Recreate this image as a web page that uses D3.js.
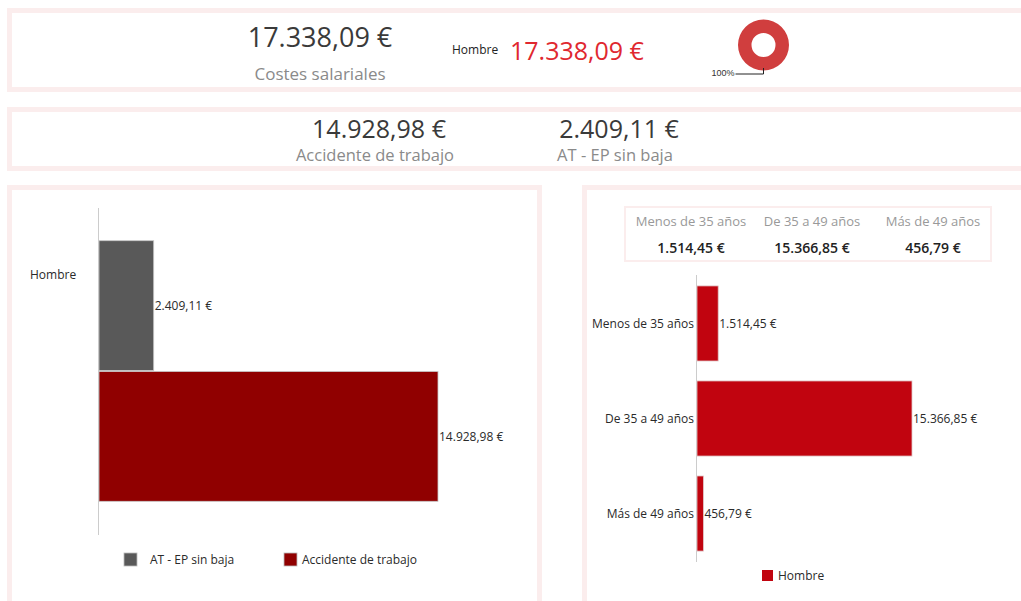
<!DOCTYPE html>
<html lang="es">
<head>
<meta charset="UTF-8">
<title>Costes salariales</title>
<script src="https://d3js.org/d3.v7.min.js"></script>
<style>
    body { margin: 0; background: #fff; }
    svg { display: block; font-family: "Open Sans", sans-serif; }
    .lbl { font-size: 12px; fill: #2a2a2a; }
</style>
</head>
<body>
<script>
// data
const totalCost = 17338.09;
const totalLabel = "Costes salariales";

const genders = ["Hombre"];
const genderCosts = [17338.09];
const genderShare = [1];

const kpiLabels = ["Accidente de trabajo", "AT - EP sin baja"];
const kpiValues = [14928.98, 2409.11];

const seriesNames = ["AT - EP sin baja", "Accidente de trabajo"];
const seriesValues = [2409.11, 14928.98];
const seriesColors = ["#595959", "#900000"];

const ageGroups = ["Menos de 35 años", "De 35 a 49 años", "Más de 49 años"];
const ageValues = [1514.45, 15366.85, 456.79];

const width = 1021, height = 601;
const border = "#fbeded";

const es = d3.formatLocale({decimal: ",", thousands: ".", grouping: [3], currency: ["", " €"]});
const eur = v => es.format(",.2f")(v) + " €";

const svg = d3.select("body").append("svg")
    .attr("width", width).attr("height", height);

// panels
const panels = [
    [9.5, 10.5, 1030, 79],
    [9.5, 109.5, 1030, 59],
    [9.5, 187.5, 530, 430],
    [584.5, 187.5, 460, 430]
];
svg.selectAll(".panel").data(panels).enter().append("rect")
    .attr("x", d => d[0]).attr("y", d => d[1])
    .attr("width", d => d[2]).attr("height", d => d[3])
    .attr("fill", "none").attr("stroke", border).attr("stroke-width", 5);

// top KPI
svg.append("text").attr("x", 320).attr("y", 47).attr("text-anchor", "middle")
    .attr("font-size", 27).attr("fill", "#3a3a3a").text(eur(totalCost));
svg.append("text").attr("x", 320).attr("y", 80).attr("text-anchor", "middle")
    .attr("font-size", 17).attr("fill", "#8a8a8a").text(totalLabel);

svg.append("text").attr("x", 452).attr("y", 54)
    .attr("font-size", 12).attr("fill", "#222").text(genders[0]);
svg.append("text").attr("x", 510).attr("y", 60)
    .attr("font-size", 25).attr("fill", "#e0282f").text(eur(genderCosts[0]));

// donut
const pie = d3.pie().sort(null)(genderShare);
const arc = d3.arc().innerRadius(12).outerRadius(25.5);
const donut = svg.append("g").attr("transform", "translate(763.5,45)");
donut.selectAll("path").data(pie).enter().append("path")
    .attr("d", arc).attr("fill", "#d03e3e");
donut.append("path").attr("d", "M0,23 V29 H-28")
    .attr("fill", "none").attr("stroke", "#222").attr("stroke-width", 1);
donut.append("text").attr("x", -29).attr("y", 31).attr("text-anchor", "end")
    .attr("font-family", "Liberation Sans, sans-serif")
    .attr("font-size", 9).attr("fill", "#333").text(d3.format(".0%")(genderShare[0]));

// second KPI row
const kpiX = [379, 619];
kpiLabels.forEach((k, i) => {
    svg.append("text").attr("x", kpiX[i]).attr("y", 138).attr("text-anchor", "middle")
        .attr("font-size", 25).attr("fill", "#3a3a3a").text(eur(kpiValues[i]));
    svg.append("text").attr("x", kpiX[i] - 4).attr("y", 161).attr("text-anchor", "middle")
        .attr("font-size", 16.5).attr("fill", "#8a8a8a").text(k);
});

// left bar chart
const yL = d3.scaleBand().domain(genders).range([208, 535]).paddingOuter(0.125);
const ySub = d3.scaleBand().domain(seriesNames).range([0, yL.bandwidth()]);
const xL = d3.scaleLinear().domain([0, d3.max(seriesValues)]).range([99, 438]);

svg.append("line").attr("x1", 98.5).attr("x2", 98.5).attr("y1", 208).attr("y2", 535)
    .attr("stroke", "#ccc");

const gL = svg.append("g");
genders.forEach(g => {
    gL.append("text").attr("class", "lbl").attr("x", 30).attr("y", yL(g) + 38)
        .attr("font-size", 13).text(g);
    seriesNames.forEach((s, i) => {
        const y0 = yL(g) + ySub(s);
        gL.append("rect").attr("x", xL(0)).attr("y", y0)
            .attr("width", xL(seriesValues[i]) - xL(0)).attr("height", ySub.bandwidth() - 1)
            .attr("fill", seriesColors[i]).attr("stroke", "#c8c8c8").attr("stroke-width", 0.8);
        gL.append("text").attr("class", "lbl").attr("x", xL(seriesValues[i]) + 1)
            .attr("y", y0 + ySub.bandwidth() / 2).attr("dy", "0.35em")
            .text(eur(seriesValues[i]));
    });
});

// left legend
const legX = [124, 284];
const legTextX = [150, 302];
seriesNames.forEach((s, i) => {
    svg.append("rect").attr("x", legX[i]).attr("y", 553).attr("width", 13).attr("height", 13)
        .attr("fill", seriesColors[i]).attr("stroke", "#bbb").attr("stroke-width", 0.8);
    svg.append("text").attr("class", "lbl").attr("x", legTextX[i]).attr("y", 560)
        .attr("dy", "0.35em").text(s);
});

// age table
svg.append("rect").attr("x", 625).attr("y", 207).attr("width", 366).attr("height", 54)
    .attr("fill", "none").attr("stroke", border).attr("stroke-width", 2);
const colX = d3.scalePoint().domain(ageGroups).range([691, 933]);
ageGroups.forEach((a, i) => {
    svg.append("text").attr("x", colX(a)).attr("y", 226).attr("text-anchor", "middle")
        .attr("font-size", 13).attr("fill", "#999").text(a);
    svg.append("text").attr("x", colX(a)).attr("y", 253).attr("text-anchor", "middle")
        .attr("font-size", 14).attr("font-weight", 600).attr("fill", "#222").text(eur(ageValues[i]));
});

// right bar chart
const yR = d3.scaleBand().domain(ageGroups).range([275, 562])
    .paddingInner(0.21).paddingOuter(0.115);
const xR = d3.scaleLinear().domain([0, d3.max(ageValues)]).range([697, 912]);

svg.append("line").attr("x1", 696.5).attr("x2", 696.5).attr("y1", 275).attr("y2", 562)
    .attr("stroke", "#ccc");

const gR = svg.append("g");
gR.selectAll("rect").data(ageGroups).enter().append("rect")
    .attr("x", xR(0)).attr("y", d => yR(d))
    .attr("width", (d, i) => xR(ageValues[i]) - xR(0)).attr("height", yR.bandwidth())
    .attr("fill", "#c1040f").attr("stroke", "#e0c8c8").attr("stroke-width", 0.8);
gR.selectAll(".cat").data(ageGroups).enter().append("text")
    .attr("class", "lbl").attr("x", 694).attr("y", d => yR(d) + yR.bandwidth() / 2)
    .attr("dy", "0.35em").attr("text-anchor", "end").attr("font-size", 11.5).text(d => d);
gR.selectAll(".val").data(ageGroups).enter().append("text")
    .attr("class", "lbl").attr("x", (d, i) => xR(ageValues[i]) + 1)
    .attr("y", d => yR(d) + yR.bandwidth() / 2).attr("dy", "0.35em")
    .text((d, i) => eur(ageValues[i]));

// right legend
svg.append("rect").attr("x", 762).attr("y", 570).attr("width", 11).attr("height", 11)
    .attr("fill", "#c1040f");
svg.append("text").attr("class", "lbl").attr("x", 778).attr("y", 576)
    .attr("dy", "0.35em").attr("font-size", 10.5).text(genders[0]);
</script>
</body>
</html>
